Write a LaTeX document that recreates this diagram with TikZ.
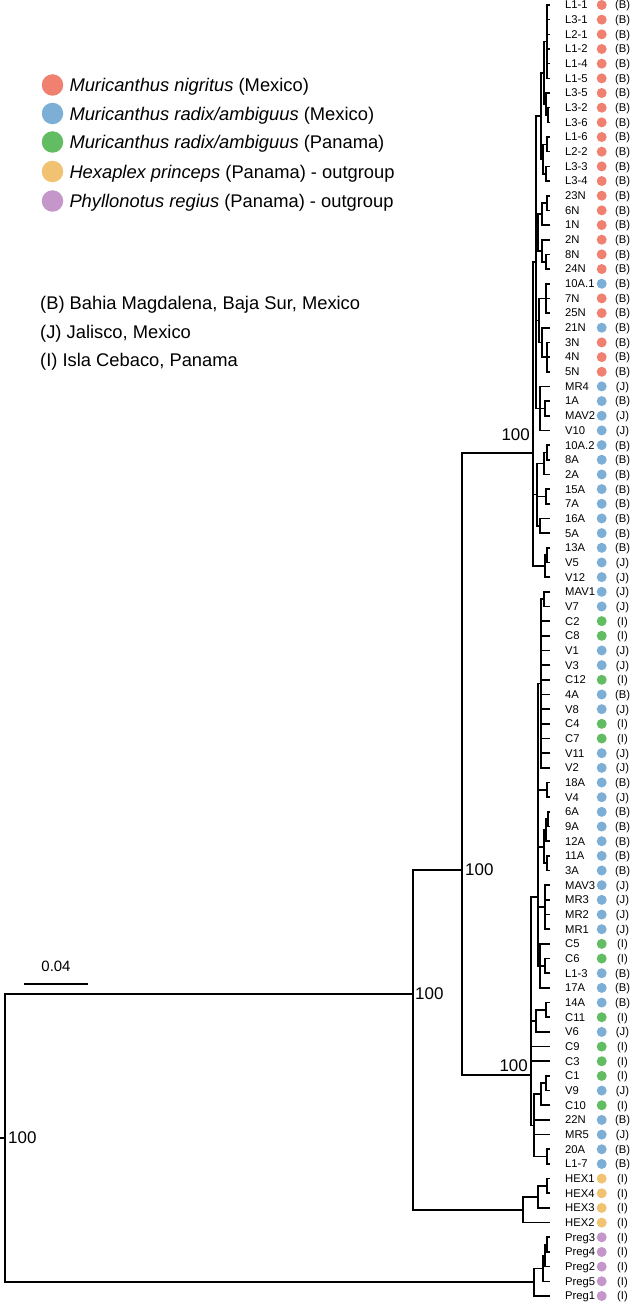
\documentclass[tikz,border=0pt]{standalone}
\usepackage{fontspec}
\setmainfont{Liberation Sans}
\definecolor{cRed}{HTML}{F0806F}
\definecolor{cBlue}{HTML}{7DAFD6}
\definecolor{cGreen}{HTML}{62BD62}
\definecolor{cOrange}{HTML}{F1C271}
\definecolor{cPurple}{HTML}{C496C9}
\newcommand\tleaf[4]{%
  \coordinate (t#1) at (549,{ly(#1)});
  \node[leaflab] (n#1) at (565,{ly(#1)+3.9}) {#2};
  \node[leafdot,fill=#3] (d#1) at (601.7,{ly(#1)}) {};
  \node[loccode] (c#1) at (622.5,{ly(#1)+3.9}) {(#4)};
}
\begin{document}
\begin{tikzpicture}[x=1bp,y=-1bp,
  declare function={ly(\k)=5+(\k-1)*14.67;},
  branch/.style={line width=1.6bp, line cap=rect},
  leaflab/.style={anchor=base west, inner sep=0, font=\fontsize{11.3}{13}\selectfont},
  loccode/.style={anchor=base, inner sep=0, font=\fontsize{11.3}{13}\selectfont},
  leafdot/.style={circle, inner sep=0, minimum size=10bp, draw=none},
  supp/.style={inner sep=0, font=\fontsize{17}{20}\selectfont},
  legtext/.style={anchor=base west, inner sep=0, font=\fontsize{18.4}{22}\selectfont},
  legdot/.style={circle, inner sep=0, minimum size=21.5bp, draw=none},
]
\useasboundingbox (0,0) rectangle (631,1303);

% ---------------- leaves
\tleaf{1}{L1-1}{cRed}{B}
\tleaf{2}{L3-1}{cRed}{B}
\tleaf{3}{L2-1}{cRed}{B}
\tleaf{4}{L1-2}{cRed}{B}
\tleaf{5}{L1-4}{cRed}{B}
\tleaf{6}{L1-5}{cRed}{B}
\tleaf{7}{L3-5}{cRed}{B}
\tleaf{8}{L3-2}{cRed}{B}
\tleaf{9}{L3-6}{cRed}{B}
\tleaf{10}{L1-6}{cRed}{B}
\tleaf{11}{L2-2}{cRed}{B}
\tleaf{12}{L3-3}{cRed}{B}
\tleaf{13}{L3-4}{cRed}{B}
\tleaf{14}{23N}{cRed}{B}
\tleaf{15}{6N}{cRed}{B}
\tleaf{16}{1N}{cRed}{B}
\tleaf{17}{2N}{cRed}{B}
\tleaf{18}{8N}{cRed}{B}
\tleaf{19}{24N}{cRed}{B}
\tleaf{20}{10A.1}{cBlue}{B}
\tleaf{21}{7N}{cRed}{B}
\tleaf{22}{25N}{cRed}{B}
\tleaf{23}{21N}{cBlue}{B}
\tleaf{24}{3N}{cRed}{B}
\tleaf{25}{4N}{cRed}{B}
\tleaf{26}{5N}{cRed}{B}
\tleaf{27}{MR4}{cBlue}{J}
\tleaf{28}{1A}{cBlue}{B}
\tleaf{29}{MAV2}{cBlue}{J}
\tleaf{30}{V10}{cBlue}{J}
\tleaf{31}{10A.2}{cBlue}{B}
\tleaf{32}{8A}{cBlue}{B}
\tleaf{33}{2A}{cBlue}{B}
\tleaf{34}{15A}{cBlue}{B}
\tleaf{35}{7A}{cBlue}{B}
\tleaf{36}{16A}{cBlue}{B}
\tleaf{37}{5A}{cBlue}{B}
\tleaf{38}{13A}{cBlue}{B}
\tleaf{39}{V5}{cBlue}{J}
\tleaf{40}{V12}{cBlue}{J}
\tleaf{41}{MAV1}{cBlue}{J}
\tleaf{42}{V7}{cBlue}{J}
\tleaf{43}{C2}{cGreen}{I}
\tleaf{44}{C8}{cGreen}{I}
\tleaf{45}{V1}{cBlue}{J}
\tleaf{46}{V3}{cBlue}{J}
\tleaf{47}{C12}{cGreen}{I}
\tleaf{48}{4A}{cBlue}{B}
\tleaf{49}{V8}{cBlue}{J}
\tleaf{50}{C4}{cGreen}{I}
\tleaf{51}{C7}{cGreen}{I}
\tleaf{52}{V11}{cBlue}{J}
\tleaf{53}{V2}{cBlue}{J}
\tleaf{54}{18A}{cBlue}{B}
\tleaf{55}{V4}{cBlue}{J}
\tleaf{56}{6A}{cBlue}{B}
\tleaf{57}{9A}{cBlue}{B}
\tleaf{58}{12A}{cBlue}{B}
\tleaf{59}{11A}{cBlue}{B}
\tleaf{60}{3A}{cBlue}{B}
\tleaf{61}{MAV3}{cBlue}{J}
\tleaf{62}{MR3}{cBlue}{J}
\tleaf{63}{MR2}{cBlue}{J}
\tleaf{64}{MR1}{cBlue}{J}
\tleaf{65}{C5}{cGreen}{I}
\tleaf{66}{C6}{cGreen}{I}
\tleaf{67}{L1-3}{cBlue}{B}
\tleaf{68}{17A}{cBlue}{B}
\tleaf{69}{14A}{cBlue}{B}
\tleaf{70}{C11}{cGreen}{I}
\tleaf{71}{V6}{cBlue}{J}
\tleaf{72}{C9}{cGreen}{I}
\tleaf{73}{C3}{cGreen}{I}
\tleaf{74}{C1}{cGreen}{I}
\tleaf{75}{V9}{cBlue}{J}
\tleaf{76}{C10}{cGreen}{I}
\tleaf{77}{22N}{cBlue}{B}
\tleaf{78}{MR5}{cBlue}{J}
\tleaf{79}{20A}{cBlue}{B}
\tleaf{80}{L1-7}{cBlue}{B}
\tleaf{81}{HEX1}{cOrange}{I}
\tleaf{82}{HEX4}{cOrange}{I}
\tleaf{83}{HEX3}{cOrange}{I}
\tleaf{84}{HEX2}{cOrange}{I}
\tleaf{85}{Preg3}{cPurple}{I}
\tleaf{86}{Preg4}{cPurple}{I}
\tleaf{87}{Preg2}{cPurple}{I}
\tleaf{88}{Preg5}{cPurple}{I}
\tleaf{89}{Preg1}{cPurple}{I}

% ---------------- internal nodes: upper clade
\coordinate (P1) at (547,{ly(3.5)});
\coordinate (P2i) at (548,{ly(8.5)});
\coordinate (P2) at (546,{ly(7.75)});
\coordinate (Lg1) at (544,{ly(5.625)});
\coordinate (LB1) at (547,{ly(10.5)});
\coordinate (LB2) at (546,{ly(12.5)});
\coordinate (LB) at (543,{ly(11.5)});
\coordinate (Lc) at (541,{ly(8.5625)});
\coordinate (Na1) at (547,{ly(14.5)});
\coordinate (Na) at (542,{ly(15.25)});
\coordinate (Nb1) at (546,{ly(18.5)});
\coordinate (Nb) at (542,{ly(17.75)});
\coordinate (Nc) at (538,{ly(16.5)});
\coordinate (Xa) at (546,{ly(21)});
\coordinate (Xb1) at (547,{ly(25)});
\coordinate (Xb) at (542,{ly(24)});
\coordinate (Xc) at (539,{ly(22.5)});
\coordinate (Ma) at (545,{ly(28.5)});
\coordinate (Mc) at (540,{ly(28.5)});
\coordinate (Qa1) at (547,{ly(31.5)});
\coordinate (Qa) at (544,{ly(32.25)});
\coordinate (Qb) at (546,{ly(34.5)});
\coordinate (Qd) at (540,{ly(36.5)});
\coordinate (Qc) at (537,{ly(34.375)});
\coordinate (Sa) at (547,{ly(38.5)});
\coordinate (S) at (545,{ly(39.25)});
\coordinate (R) at (536,{ly(18.53)});
\coordinate (A) at (533,453);
% lower clade
\coordinate (Pa) at (544,{ly(41.5)});
\coordinate (Pp) at (541,{ly(47.25)});
\coordinate (Fb) at (547,{ly(54.5)});
\coordinate (F1) at (548,{ly(56.5)});
\coordinate (F2) at (546,{ly(57.25)});
\coordinate (F3) at (547,{ly(59.5)});
\coordinate (F) at (544,{ly(58.375)});
\coordinate (G) at (545,{ly(62.5)});
\coordinate (Ka) at (545,{ly(66.5)});
\coordinate (K) at (540,{ly(66.5)});
\coordinate (U1) at (538,897);
\coordinate (Ha1) at (546,{ly(69.5)});
\coordinate (Hh) at (536,{ly(70.25)});
\coordinate (La1) at (546,{ly(74.5)});
\coordinate (La) at (541,{ly(75.25)});
\coordinate (Lb) at (547,{ly(79.5)});
\coordinate (Lw) at (534,{ly(77.375)});
\coordinate (Bc) at (531,1075);
% outgroups
\coordinate (H1) at (547,{ly(81.5)});
\coordinate (H2) at (538,{ly(82.25)});
\coordinate (Hc) at (523,{ly(83.125)});
\coordinate (Pg1) at (547,{ly(85.5)});
\coordinate (Pg2) at (545,{ly(86.25)});
\coordinate (Pg3) at (543,{ly(87.125)});
\coordinate (Pg) at (534,{ly(88.0625)});
% backbone
\coordinate (N2) at (462,870);
\coordinate (N1) at (413,994);
\coordinate (root) at (5,1138);
\coordinate (rootstub) at (0.5,1138);

% ---------------- branches
\foreach \i in {1,...,6} \draw[branch] (P1) |- (t\i);
\draw[branch] (P2i) |- (t8) (P2i) |- (t9);
\draw[branch] (P2) |- (t7) (P2) |- (P2i);
\draw[branch] (Lg1) |- (P1) (Lg1) |- (P2);
\draw[branch] (LB1) |- (t10) (LB1) |- (t11);
\draw[branch] (LB2) |- (t12) (LB2) |- (t13);
\draw[branch] (LB) |- (LB1) (LB) |- (LB2);
\draw[branch] (Lc) |- (Lg1) (Lc) |- (LB);
\draw[branch] (Na1) |- (t14) (Na1) |- (t15);
\draw[branch] (Na) |- (Na1) (Na) |- (t16);
\draw[branch] (Nb1) |- (t18) (Nb1) |- (t19);
\draw[branch] (Nb) |- (t17) (Nb) |- (Nb1);
\draw[branch] (Nc) |- (Na) (Nc) |- (Nb);
\foreach \i in {20,21,22} \draw[branch] (Xa) |- (t\i);
\foreach \i in {24,25,26} \draw[branch] (Xb1) |- (t\i);
\draw[branch] (Xb) |- (t23) (Xb) |- (Xb1);
\draw[branch] (Xc) |- (Xa) (Xc) |- (Xb);
\draw[branch] (Ma) |- (t28) (Ma) |- (t29);
\draw[branch] (Mc) |- (t27) (Mc) |- (Ma) (Mc) |- (t30);
\draw[branch] (Qa1) |- (t31) (Qa1) |- (t32);
\draw[branch] (Qa) |- (Qa1) (Qa) |- (t33);
\draw[branch] (Qb) |- (t34) (Qb) |- (t35);
\draw[branch] (Qd) |- (t36) (Qd) |- (t37);
\draw[branch] (Qc) |- (Qa) (Qc) |- (Qb) (Qc) |- (Qd);
\draw[branch] (Sa) |- (t38) (Sa) |- (t39);
\draw[branch] (S) |- (Sa) (S) |- (t40);
\draw[branch] (R) |- (Lc) (R) |- (Nc) (R) |- (Xc) (R) |- (Mc);
\draw[branch] (A) |- (R) (A) |- (Qc) (A) |- (S);

\draw[branch] (Pa) |- (t41) (Pa) |- (t42);
\draw[branch] (Pp) |- (Pa);
\foreach \i in {43,...,53} \draw[branch] (Pp) |- (t\i);
\draw[branch] (Fb) |- (t54) (Fb) |- (t55);
\draw[branch] (F1) |- (t56) (F1) |- (t57);
\draw[branch] (F2) |- (F1) (F2) |- (t58);
\draw[branch] (F3) |- (t59) (F3) |- (t60);
\draw[branch] (F) |- (F2) (F) |- (F3);
\foreach \i in {61,...,64} \draw[branch] (G) |- (t\i);
\draw[branch] (Ka) |- (t66) (Ka) |- (t67);
\draw[branch] (K) |- (t65) (K) |- (Ka) (K) |- (t68);
\draw[branch] (U1) |- (Pp) (U1) |- (Fb) (U1) |- (F) (U1) |- (G) (U1) |- (K);
\draw[branch] (Ha1) |- (t69) (Ha1) |- (t70);
\draw[branch] (Hh) |- (Ha1) (Hh) |- (t71);
\draw[branch] (La1) |- (t74) (La1) |- (t75);
\draw[branch] (La) |- (La1) (La) |- (t76);
\draw[branch] (Lb) |- (t79) (Lb) |- (t80);
\draw[branch] (Lw) |- (La) (Lw) |- (t77) (Lw) |- (t78) (Lw) |- (Lb);
\draw[branch] (Bc) |- (U1) (Bc) |- (Hh) (Bc) |- (t72) (Bc) |- (t73) (Bc) |- (Lw);

\draw[branch] (H1) |- (t81) (H1) |- (t82);
\draw[branch] (H2) |- (H1) (H2) |- (t83);
\draw[branch] (Hc) |- (H2) (Hc) |- (t84);
\draw[branch] (Pg1) |- (t85) (Pg1) |- (t86);
\draw[branch] (Pg2) |- (Pg1) (Pg2) |- (t87);
\draw[branch] (Pg3) |- (Pg2) (Pg3) |- (t88);
\draw[branch] (Pg) |- (Pg3) (Pg) |- (t89);

\draw[branch] (N2) |- (A) (N2) |- (Bc);
\draw[branch] (N1) |- (N2) (N1) |- (Hc);
\draw[branch] (root) |- (N1) (root) |- (Pg);
\draw[branch] (rootstub) -- (root);

% ---------------- support values
\node[supp, anchor=base east] (sA) at (530,440) {100};
\node[supp, anchor=base east] (sBc) at (528,1071) {100};
\node[supp, anchor=west] (sN1) at (415,994) {100};
\node[supp, anchor=west] (sN2) at (465,870) {100};
\node[supp, anchor=west] (sRoot) at (8,1138) {100};

% ---------------- scale bar
\coordinate (sb1) at (24,984);
\coordinate (sb2) at (88,984);
\draw[line width=1.7bp] (sb1) -- (sb2);
\node[inner sep=0, font=\fontsize{15}{18}\selectfont] (sbl) at (56,966) {0.04};

% ---------------- legend
\node[legdot, fill=cRed] (g1) at (52.5,85) {};
\node[legtext] (gt1) at (69.3,91.6) {\textit{Muricanthus nigritus} (Mexico)};
\node[legdot, fill=cBlue] (g2) at (52.5,113.5) {};
\node[legtext] (gt2) at (69.3,120.1) {\textit{Muricanthus radix/ambiguus} (Mexico)};
\node[legdot, fill=cGreen] (g3) at (52.5,142) {};
\node[legtext] (gt3) at (69.3,148.6) {\textit{Muricanthus radix/ambiguus} (Panama)};
\node[legdot, fill=cOrange] (g4) at (52.5,171.5) {};
\node[legtext] (gt4) at (69.3,178.1) {\textit{Hexaplex princeps} (Panama) - outgroup};
\node[legdot, fill=cPurple] (g5) at (52.5,201) {};
\node[legtext] (gt5) at (69.3,207.6) {\textit{Phyllonotus regius} (Panama) - outgroup};

\node[legtext] (loc1) at (40,309.9) {(B) Bahia Magdalena, Baja Sur, Mexico};
\node[legtext] (loc2) at (40,338.3) {(J) Jalisco, Mexico};
\node[legtext] (loc3) at (40,366.6) {(I) Isla Cebaco, Panama};
\end{tikzpicture}
\end{document}
